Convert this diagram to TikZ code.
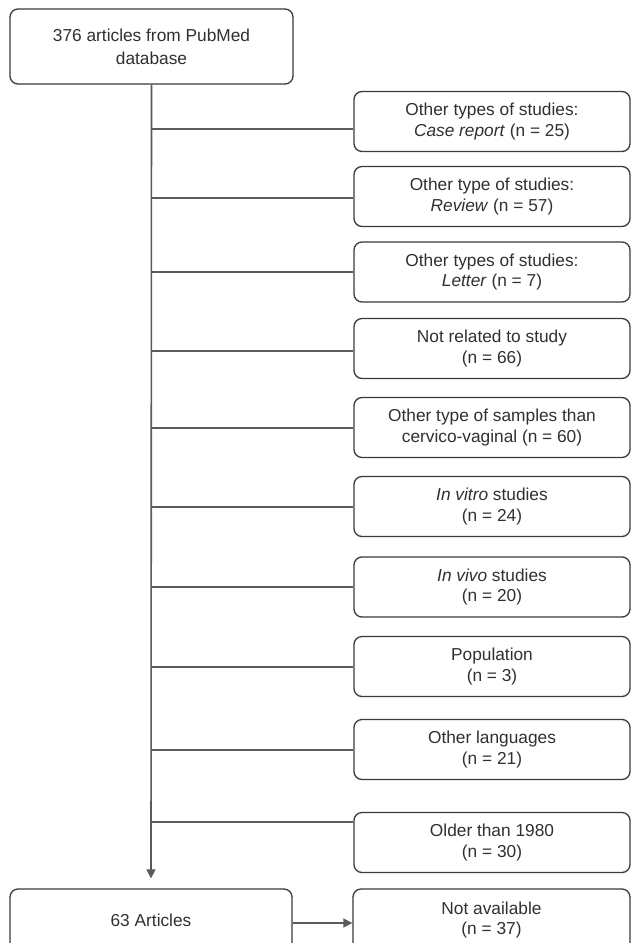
\documentclass[tikz,border=0pt]{standalone}
\usepackage{fontspec}
\setmainfont{Liberation Sans}
\usetikzlibrary{arrows.meta}
\definecolor{boxline}{HTML}{3A3A3A}
\definecolor{conn}{HTML}{5A5A5A}
\definecolor{txt}{HTML}{303030}
\tikzset{
  flowbox/.style={draw=boxline, line width=1.3pt, rounded corners=8pt, rectangle,
    inner sep=0pt, align=center, text=txt,
    font=\fontsize{17.3}{20.5}\selectfont},
  rbox/.style={flowbox, minimum width=276pt, minimum height=60pt},
  conline/.style={draw=conn, line width=1.6pt},
  conarrow/.style={conline, -{Triangle[length=9pt,width=9pt]}}
}
\begin{document}
\begin{tikzpicture}[x=1pt,y=-1pt]
\useasboundingbox (0,0) rectangle (632,943);
\clip (0,0) rectangle (632,943);
\fill[white] (0,0) rectangle (632,943);

\node[flowbox, minimum width=283pt, minimum height=75pt,
  font=\fontsize{17.3}{23}\selectfont] (top) at (151.5,46.5) {376 articles from PubMed\\database};

\node[rbox] (b1) at (492,121.5) {Other types of studies:\\\textit{Case report} (n = 25)};
\node[rbox] (b2) at (492,196.5) {Other type of studies:\\\textit{Review} (n = 57)};
\node[rbox] (b3) at (492,272) {Other types of studies:\\\textit{Letter} (n = 7)};
\node[rbox] (b4) at (492,348.5) {Not related to study\\(n = 66)};
\node[rbox] (b5) at (492,427.5) {Other type of samples than\\cervico-vaginal (n = 60)};
\node[rbox] (b6) at (492,506.5) {\textit{In vitro} studies\\(n = 24)};
\node[rbox] (b7) at (492,587) {\textit{In vivo} studies\\(n = 20)};
\node[rbox] (b8) at (492,666.5) {Population\\(n = 3)};
\node[rbox] (b9) at (492,749.5) {Other languages\\(n = 21)};
\node[rbox] (b10) at (492,842.5) {Older than 1980\\(n = 30)};

\node[flowbox, minimum width=282pt, minimum height=62pt] (art) at (151,920) {63 Articles};
\node[rbox, minimum width=277pt, minimum height=62pt] (na) at (491.5,920) {Not available\\(n = 37)};

% trunk, its tip stopping a little above the box
\coordinate (trunkend) at ([yshift=10pt]art.north);
\draw[conarrow] (top.south) -- (trunkend);

% branch points on the trunk
\coordinate (t1) at (151.5,129);
\coordinate (t2) at (151.5,198);
\coordinate (t3) at (151.5,272);
\coordinate (t4) at (151.5,351);
\coordinate (t5) at (151.5,428);
\coordinate (t6) at (151.5,507);
\coordinate (t7) at (151.5,587);
\coordinate (t8) at (151.5,667);
\coordinate (t9) at (151.5,750);
\coordinate (t10) at (151.5,822);
\foreach \i in {1,...,10}{
  \draw[conline] (t\i) -- (t\i -| b\i.west);
}

\coordinate (aa) at (art.east |- 0,923);
\draw[conarrow] (aa) -- (aa -| na.west);
\end{tikzpicture}
\end{document}
